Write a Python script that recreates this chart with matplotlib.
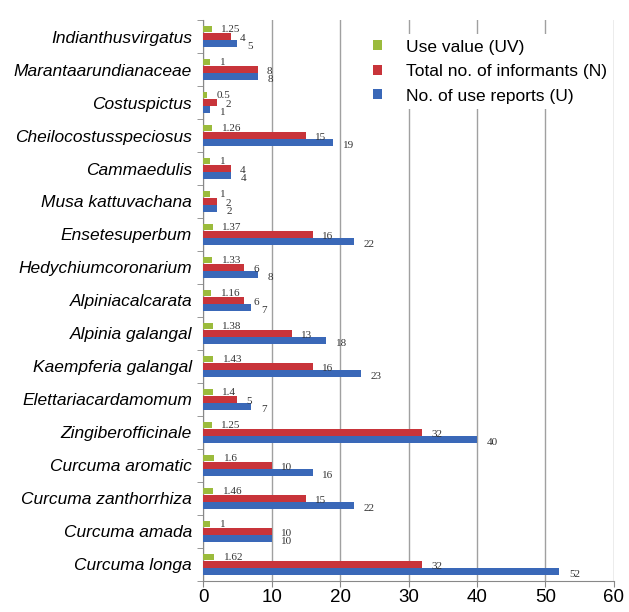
import matplotlib
matplotlib.use("Agg")
import matplotlib.pyplot as plt
import numpy as np
from matplotlib.ticker import FixedLocator

species = ["Indianthusvirgatus", "Marantaarundianaceae", "Costuspictus",
           "Cheilocostusspeciosus", "Cammaedulis", "Musa kattuvachana",
           "Ensetesuperbum", "Hedychiumcoronarium", "Alpiniacalcarata",
           "Alpinia galangal", "Kaempferia galangal", "Elettariacardamomum",
           "Zingiberofficinale", "Curcuma aromatic", "Curcuma zanthorrhiza",
           "Curcuma amada", "Curcuma longa"]
use_value = [1.25, 1, 0.5, 1.26, 1, 1, 1.37, 1.33, 1.16, 1.38, 1.43, 1.4,
             1.25, 1.6, 1.46, 1, 1.62]
informants = [4, 8, 2, 15, 4, 2, 16, 6, 6, 13, 16, 5, 32, 10, 15, 10, 32]
use_reports = [5, 8, 1, 19, 4, 2, 22, 8, 7, 18, 23, 7, 40, 16, 22, 10, 52]
uv_labels = ["1.25", "1", "0.5", "1.26", "1", "1", "1.37", "1.33", "1.16",
             "1.38", "1.43", "1.4", "1.25", "1.6", "1.46", "1", "1.62"]

series_names = ["Use value (UV)", "Total no. of informants (N)",
                "No. of use reports (U)"]
colors = ["#9BBB3C", "#C8343A", "#3A68B8"]

fig = plt.figure(figsize=(6.29, 6.12), dpi=100)
ax = fig.add_axes([0.323, 0.0507, 0.653, 0.9166])

y = np.arange(len(species))
h = 0.22
datasets = [use_value, informants, use_reports]
offsets = [-h, 0, h]
for data, off, c, name in zip(datasets, offsets, colors, series_names):
    ax.barh(y + off, data, height=h * (0.8 if c == colors[0] else 0.95),
            color=c, label=name, zorder=3)

serif = ["Liberation Serif", "DejaVu Serif"]
for i in range(len(species)):
    ax.annotate(uv_labels[i], (use_value[i], y[i] - h), xytext=(7, -0.5),
                textcoords="offset points", va="center", ha="left",
                fontsize=8, family=serif, color="#333333", zorder=4)
    ax.annotate(str(informants[i]), (informants[i], y[i]), xytext=(6.5, -1.5),
                textcoords="offset points", va="center", ha="left",
                fontsize=8, family=serif, color="#333333", zorder=4)
    ax.annotate(str(use_reports[i]), (use_reports[i], y[i] + h), xytext=(7, -2),
                textcoords="offset points", va="center", ha="left",
                fontsize=8, family=serif, color="#333333", zorder=4)

ax.set_xlim(0, 60)
ax.set_ylim(len(species) - 0.5, -0.5)
ax.set_xticks(np.arange(0, 61, 10))
ax.set_yticks(y)
ax.set_yticklabels(species, fontstyle="italic", fontsize=12.5,
                   family=["Liberation Sans", "DejaVu Sans"])
ax.yaxis.set_minor_locator(FixedLocator(np.arange(-0.5, len(species), 1)))
ax.tick_params(axis="y", which="major", length=0, pad=8)
ax.tick_params(axis="y", which="minor", length=4, color="#888888")
ax.tick_params(axis="x", length=4.5, color="#888888", labelsize=13.5, pad=1.5)
for lab in ax.get_xticklabels():
    lab.set_family(["Liberation Sans", "DejaVu Sans"])

ax.grid(axis="x", color="#A0A0A0", linewidth=1, zorder=0)
ax.grid(axis="y", visible=False)
for s in ["top", "right"]:
    ax.spines[s].set_visible(False)
ax.spines["left"].set_color("#888888")
ax.spines["bottom"].set_color("#888888")

leg = ax.legend(loc="upper left", bbox_to_anchor=(0.38, 0.99), frameon=True,
                fancybox=False, edgecolor="none", facecolor="white",
                framealpha=1, handlelength=0.5, handleheight=0.5,
                handletextpad=1.4, labelspacing=0.55, borderpad=0.3,
                prop={"family": ["Liberation Sans", "DejaVu Sans"], "size": 12.5})
leg.set_zorder(5)

fig.savefig("out.png", dpi=100)
